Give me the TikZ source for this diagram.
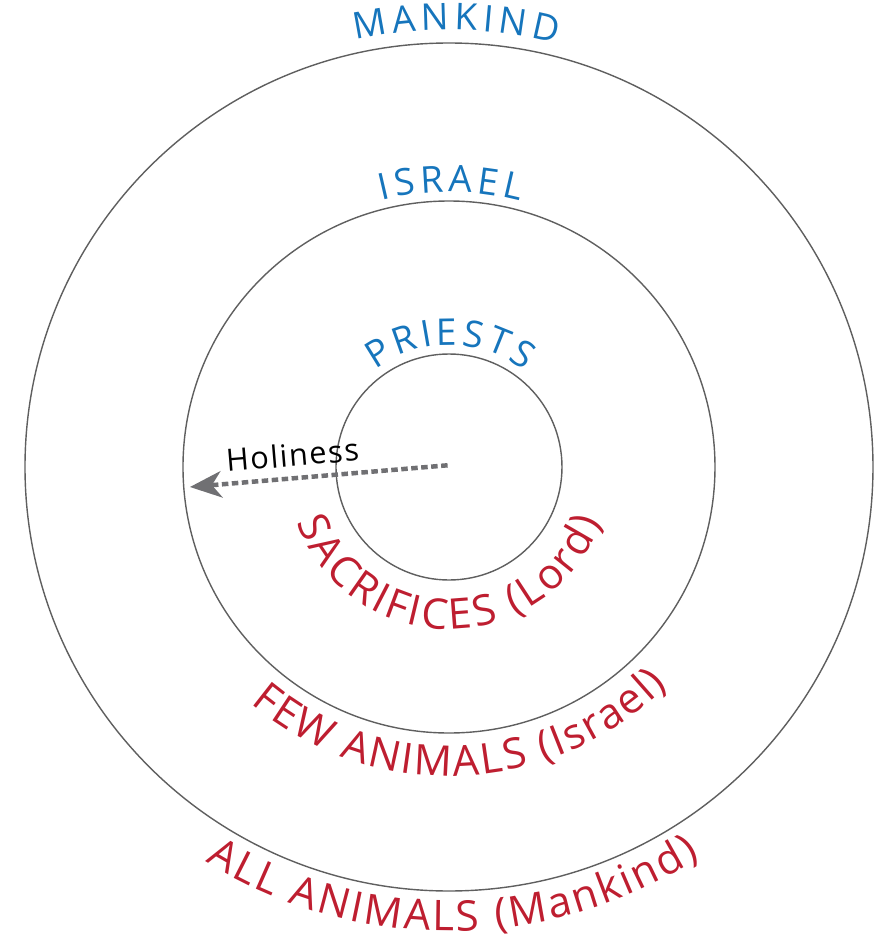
\documentclass[tikz,border=0pt]{standalone}
\usepackage{fontspec}
\setmainfont{Open Sans}
\usetikzlibrary{arrows.meta,decorations.text}
\definecolor{ringblue}{RGB}{22,117,188}
\definecolor{ringred}{RGB}{190,30,48}
\definecolor{ringgray}{RGB}{95,95,95}
\definecolor{arrowgray}{RGB}{112,112,115}
\newcommand{\bluefont}{\fontsize{21}{23}\selectfont\color{ringblue}}
\newcommand{\redfont}{\fontsize{24}{26}\selectfont\color{ringred}}
\tikzset{
  % one of the concentric circles
  ring/.style={circle, draw=ringgray, line width=0.8pt, inner sep=0pt, minimum size=#1},
  % text spread along an arc
  arc text/.style={postaction={decorate}, decoration={text along path, text align=fit to path, text={#1}}},
  % dashed arrow of holiness
  holy/.style={draw=arrowgray, line width=0.09cm, dash pattern=on 0.13cm off 0.07cm,
    {Stealth[length=0.64cm, width=0.54cm, inset=0.2cm, fill=arrowgray, line width=0pt]}-},
}

\begin{document}
\begin{tikzpicture}
  \useasboundingbox (-8.98,-9.44) rectangle (8.66,9.34);

  \node[ring=16.96cm] (mankind) at (0,0) {};
  \node[ring=10.64cm] (israel) at (0,0) {};
  \node[ring=4.52cm] (priests) at (0,0) {};

  % upper labels
  \path[arc text={|\bluefont|MANKIND}] (102.4:8.74) arc[start angle=102.4, end angle=75.7, radius=8.74];
  \path[arc text={|\bluefont|ISRAEL}] (104.1:5.50) arc[start angle=104.1, end angle=75.0, radius=5.50];
  \path[arc text={|\bluefont|PRIESTS}] (127:2.44) arc[start angle=127, end angle=52, radius=2.44];

  % lower labels
  \path[arc text={|\redfont|SACRIFICES (Lord)}] (200:3.24) arc[start angle=200, end angle=340, radius=3.24];
  \path[arc text={|\redfont|FEW ANIMALS (Israel)}] (230:6.18) arc[start angle=230, end angle=315, radius=6.18];
  \path[arc text={|\redfont|ALL ANIMALS (Mankind)}] (238.3:9.28) arc[start angle=238.3, end angle=302.7, radius=9.28];

  % holiness arrow
  \coordinate (tip) at (-5.18,-0.40);
  \coordinate (src) at (0.04,0.04);
  \draw[holy] (tip) -- (src) node[pos=0.4, above=2pt, sloped, font=\fontsize{17.5}{20}\selectfont\addfontfeature{LetterSpace=5}] (holiness) {Holiness};
\end{tikzpicture}
\end{document}
